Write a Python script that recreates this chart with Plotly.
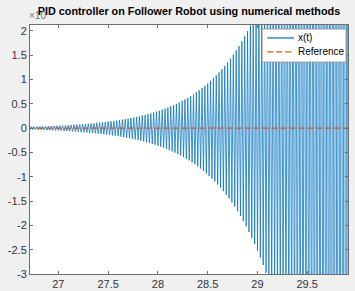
import plotly.graph_objects as go

# ---- data ----
t_start = 26.70          # time of first sample
t_step = 0.01429         # half-period between successive extrema

# successive positive peaks of x(t)
x_upper = [0.028, 0.0296, 0.0313, 0.0331, 0.0350,
           0.0369, 0.0390, 0.0412, 0.0436, 0.0461,
           0.0487, 0.0515, 0.0544, 0.0575, 0.0608,
           0.0643, 0.0680, 0.0718, 0.0759, 0.0803,
           0.0848, 0.0896, 0.0947, 0.1001, 0.1058,
           0.1119, 0.1183, 0.1250, 0.1321, 0.1397,
           0.1476, 0.1560, 0.1649, 0.1743, 0.1842,
           0.1946, 0.2057, 0.2174, 0.2298, 0.2429,
           0.2568, 0.2714, 0.2869, 0.3033, 0.3205,
           0.3388, 0.3581, 0.3785, 0.4001, 0.4229,
           0.4469, 0.4724, 0.4993, 0.5278, 0.5578,
           0.5894, 0.6230, 0.6585, 0.6960, 0.7357,
           0.7776, 0.8219, 0.8688, 0.9183, 0.9706,
           1.026, 1.084, 1.146, 1.212, 1.281,
           1.352, 1.429, 1.510, 1.597, 1.688,
           1.786, 1.888, 1.995, 2.109, 2.229,
           2.355, 2.489, 2.631, 2.781, 2.940,
           3.108, 3.285, 3.472, 3.670, 3.879,
           4.099, 4.333, 4.579, 4.840, 5.116,
           5.404, 5.712, 6.038, 6.382, 6.746,
           7.14, 7.55, 7.98, 8.43, 8.91,
           9.41, 9.95, 10.51, 11.11, 11.75,
           12.40, 13.11, 13.86, 14.65]

# successive negative peaks of x(t)
x_lower = [-0.0300, -0.0317, -0.0335, -0.0354, -0.0375,
           -0.0395, -0.0417, -0.0441, -0.0467, -0.0493,
           -0.0521, -0.0551, -0.0582, -0.0615, -0.0651,
           -0.0688, -0.0728, -0.0768, -0.0812, -0.0859,
           -0.0907, -0.0959, -0.1013, -0.1071, -0.1132,
           -0.1197, -0.1266, -0.1338, -0.1413, -0.1495,
           -0.1579, -0.1669, -0.1764, -0.1865, -0.1971,
           -0.2082, -0.2201, -0.2326, -0.2459, -0.2599,
           -0.2748, -0.2904, -0.3070, -0.3245, -0.3429,
           -0.3625, -0.3832, -0.4050, -0.4281, -0.4525,
           -0.4782, -0.5055, -0.5343, -0.5647, -0.5968,
           -0.6307, -0.6666, -0.7046, -0.7447, -0.7872,
           -0.8320, -0.8794, -0.9296, -0.9826, -1.0385,
           -1.098, -1.160, -1.226, -1.297, -1.371,
           -1.447, -1.529, -1.616, -1.709, -1.806,
           -1.911, -2.020, -2.135, -2.257, -2.385,
           -2.520, -2.663, -2.815, -2.976, -3.146,
           -3.326, -3.515, -3.715, -3.927, -4.151,
           -4.386, -4.636, -4.900, -5.179, -5.474,
           -5.782, -6.112, -6.461, -6.829, -7.218,
           -7.64, -8.08, -8.54, -9.02, -9.53,
           -10.07, -10.65, -11.25, -11.89, -12.57,
           -13.27, -14.03, -14.83, -15.68]

reference_value = [0.0, 0.0]
reference_time = [26.70, 29.95]

series_names = ["x(t)", "Reference"]
x_ticks = [27, 27.5, 28, 28.5, 29, 29.5]
x_tick_labels = ["27", "27.5", "28", "28.5", "29", "29.5"]
y_ticks = [-3, -2.5, -2, -1.5, -1, -0.5, 0, 0.5, 1, 1.5, 2]
y_tick_labels = ["-3", "-2.5", "-2", "-1.5", "-1", "-0.5", "0", "0.5", "1", "1.5", "2"]

# interleave extrema in time order
x_signal = []
for up, lo in zip(x_upper, x_lower):
    x_signal.append(up)
    x_signal.append(lo)

BLUE = "#0072BD"
ORANGE = "#D95319"
FONT = "Liberation Sans, Arial, sans-serif"

fig = go.Figure()
fig.add_trace(go.Scatter(
    y=x_signal, x0=t_start, dx=t_step, mode="lines", name=series_names[0],
    line=dict(color=BLUE, width=0.75), showlegend=False, hoverinfo="skip"))
fig.add_trace(go.Scatter(
    x=reference_time, y=reference_value, mode="lines", name=series_names[1],
    line=dict(color=ORANGE, width=1.2, dash="6px,3px"), showlegend=False, hoverinfo="skip"))

axis_common = dict(
    showgrid=False, zeroline=False, showline=True, linecolor="#6e6e6e", linewidth=1,
    mirror="ticks", ticks="inside", ticklen=3, tickcolor="#6e6e6e", automargin=False,
    tickfont=dict(family=FONT, size=11, color="#333333"),
)

fig.update_layout(
    width=355, height=291,
    margin=dict(l=29.5, r=7, t=25, b=17),
    paper_bgcolor="#F0F0F0", plot_bgcolor="white",
    showlegend=False,
    title=dict(text="<b>PID controller on Follower Robot using numerical methods</b>",
               xref="paper", yref="container",
               x=0.5, xanchor="center", y=0.96, yanchor="middle",
               font=dict(family=FONT, size=10.8, color="#000000")),
    xaxis=dict(range=[26.715, 29.91], tickvals=x_ticks, ticktext=x_tick_labels, **axis_common),
    yaxis=dict(range=[-3, 2.12], tickvals=y_ticks, ticktext=y_tick_labels, **axis_common),
)

# exponent label of the y axis (partly hidden behind the title, as in the reference)
fig.add_annotation(text="×10", xref="paper", yref="paper", x=-0.008, y=1.04,
                   xanchor="left", yanchor="middle", showarrow=False,
                   font=dict(family=FONT, size=10, color="#777777"))

# legend box (MATLAB style)
fig.add_shape(type="rect", xref="paper", yref="paper", x0=0.730, x1=0.994, y0=0.851, y1=0.984,
              fillcolor="white", line=dict(color="#9a9a9a", width=1), layer="above")
legend_rows = [0.948, 0.892]
legend_styles = [dict(color=BLUE, width=1.2), dict(color=ORANGE, width=1.2, dash="6px,3px")]
for name, ry, st in zip(series_names, legend_rows, legend_styles):
    fig.add_shape(type="line", xref="paper", yref="paper", x0=0.746, x1=0.830, y0=ry, y1=ry,
                  line=st, layer="above")
    fig.add_annotation(text=name, xref="paper", yref="paper", x=0.836, y=ry,
                       xanchor="left", yanchor="middle", showarrow=False,
                       font=dict(family=FONT, size=10, color="#000000"))

fig.write_html("out.html", config={"displayModeBar": False},
               post_script="document.body.style.margin='0';")
